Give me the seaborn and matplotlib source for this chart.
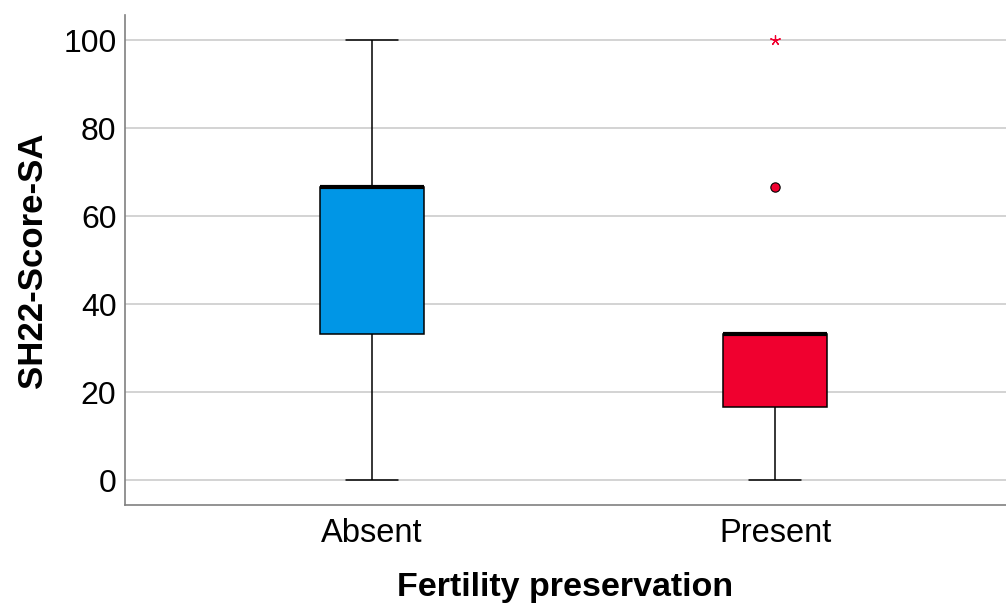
import numpy as np
import pandas as pd
import matplotlib
matplotlib.use("Agg")
import matplotlib.pyplot as plt
import seaborn as sns

# scores per group
absent_scores = [0, 33.3, 33.3, 66.7, 66.7, 66.7, 66.7, 100]
present_scores = [0, 16.7, 16.7, 16.7, 33.3, 33.3, 33.3, 33.3, 33.3, 33.3, 66.7, 100]
groups = ["Absent", "Present"]
box_colors = ["#0096E6", "#F0002F"]
y_ticks = [0, 20, 40, 60, 80, 100]

df = pd.DataFrame({
    "group": ["Absent"] * len(absent_scores) + ["Present"] * len(present_scores),
    "score": absent_scores + present_scores,
})

sns.set_style("white")
plt.rcParams["font.family"] = ["Liberation Sans", "DejaVu Sans"]
plt.rcParams["text.color"] = "black"
plt.rcParams["axes.labelcolor"] = "black"
plt.rcParams["xtick.color"] = "black"
plt.rcParams["ytick.color"] = "black"

fig, ax = plt.subplots(figsize=(10.06, 6.05), dpi=100)
fig.subplots_adjust(left=0.124, right=1.0, top=0.975, bottom=0.165)

sns.boxplot(data=df, x="group", y="score", order=groups, hue="group",
            palette=box_colors, legend=False, width=0.258, whis=1.5,
            showfliers=False, linecolor="black", linewidth=1.1, saturation=1,
            medianprops={"linewidth": 3, "color": "black"}, ax=ax)

# SPSS style outliers: circle beyond 1.5 IQR, star beyond 3 IQR
for i, g in enumerate(groups):
    vals = np.array(df.loc[df.group == g, "score"])
    q1, q3 = np.percentile(vals, [25, 75])
    iqr = q3 - q1
    dist = np.maximum(vals - q3, q1 - vals)
    mild = vals[(dist > 1.5 * iqr) & (dist <= 3 * iqr)]
    extreme = vals[dist > 3 * iqr]
    ax.scatter([i] * len(mild), mild, s=45, color=box_colors[i],
               edgecolor="black", linewidth=0.8, zorder=5)
    ax.scatter([i] * len(extreme), extreme, s=50, marker=(5, 2, 0),
               color=box_colors[i], linewidth=0.9, zorder=5)

ax.set_xlim(-0.613, 1.573)
ax.set_ylim(-5.7, 105.7)
ax.set_yticks(y_ticks)
ax.grid(axis="y", color="#d0d0d0", linewidth=1.3)
ax.set_axisbelow(True)
for s in ["top", "right"]:
    ax.spines[s].set_visible(False)
for s in ["left", "bottom"]:
    ax.spines[s].set_color("#808080")
    ax.spines[s].set_linewidth(1.2)
ax.tick_params(axis="y", length=0, labelsize=23, pad=6)
ax.tick_params(axis="x", length=0, labelsize=23.5, pad=9)
ax.set_xlabel("Fertility preservation", fontsize=24.5, fontweight="bold", labelpad=17)
ax.set_ylabel("SH22-Score-SA", fontsize=25, fontweight="bold", labelpad=10)

fig.savefig("out.png", dpi=100)
